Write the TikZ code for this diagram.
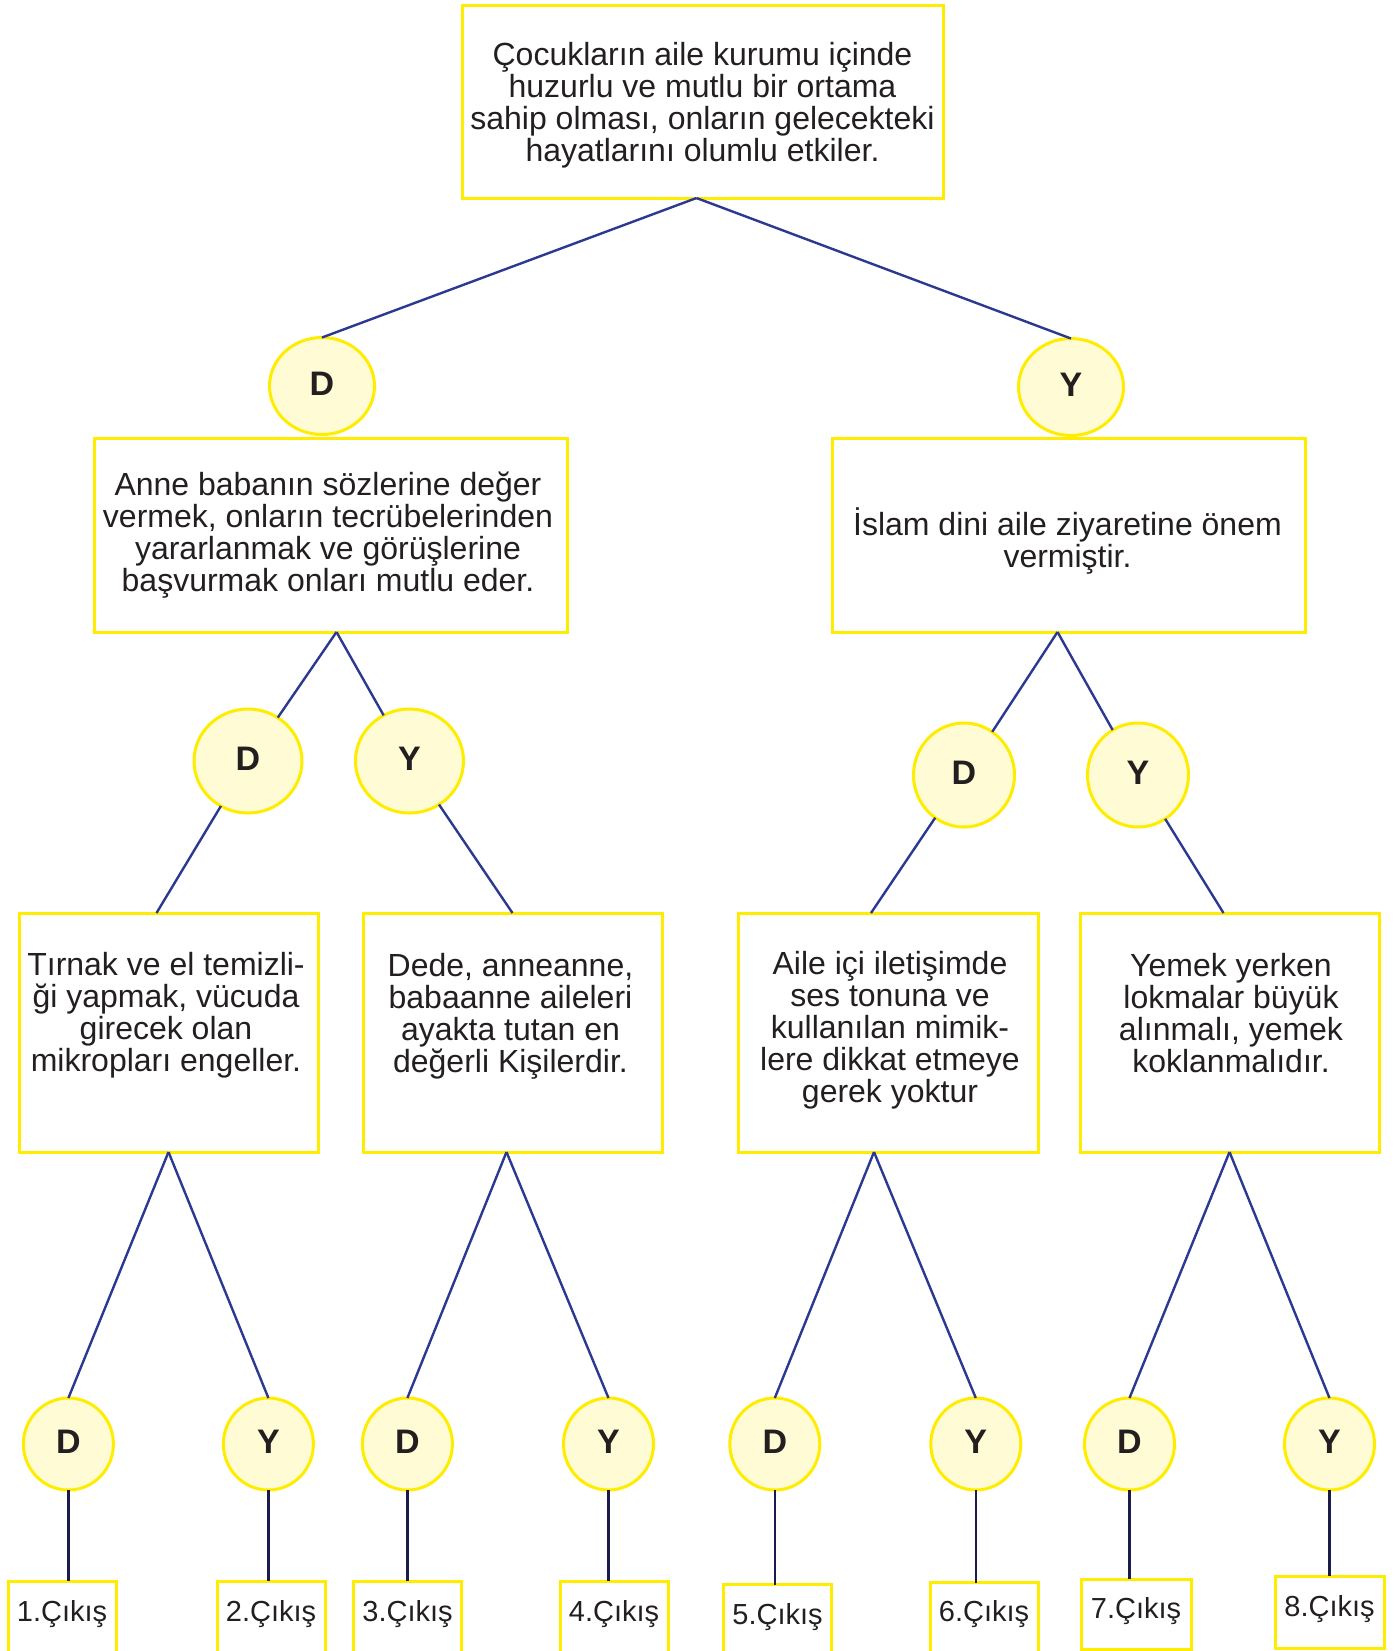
\documentclass[tikz,border=0pt]{standalone}
\usepackage{fontspec}
\setmainfont{Liberation Sans}
\usetikzlibrary{shapes.geometric}
\definecolor{byel}{HTML}{FFED00}
\definecolor{cfill}{HTML}{FFFBD5}
\definecolor{lblue}{HTML}{2B3990}
\definecolor{lnavy}{HTML}{1C1C4A}
\definecolor{txt}{HTML}{231F20}
\begin{document}
\begin{tikzpicture}[x=0.5pt,y=-0.5pt,
 box/.style={draw=byel, line width=1.5pt, rectangle, inner sep=0pt, outer sep=0pt},
 txtnode/.style={align=center, text=txt, inner sep=0pt, font=\fontsize{16}{16}\selectfont},
 yn/.style={ellipse, draw=byel, line width=1.5pt, fill=cfill, inner sep=0pt, outer sep=0pt, text=txt, text height=12.2pt, text depth=3pt, font=\fontsize{17}{17}\selectfont\bfseries},
 yn1/.style={yn, minimum width=52.5pt, minimum height=48.5pt},
 yn2/.style={yn, minimum width=52pt, minimum height=52pt},
 yn4/.style={yn, minimum width=45pt, minimum height=46pt},
 conn/.style={draw=lblue, line width=1.2pt},
 vconn/.style={draw=lnavy, line width=1.2pt},
 exitt/.style={text=txt, inner sep=0pt, font=\fontsize{14.5}{14.5}\selectfont},
 bigbox/.style={box, minimum width=236.5pt, minimum height=97pt},
 midbox/.style={box, minimum width=149.5pt, minimum height=119.5pt},
 exbox/.style={box, minimum width=54pt}
]
\useasboundingbox (0,0) rectangle (1399,1651);
\clip (0,0) rectangle (1399,1651);
\fill[white] (0,0) rectangle (1399,1651);

% top box
\node[box, minimum width=240.5pt, minimum height=96.5pt] (top) at (702.5,101.5) {};
\node[txtnode] (toptxt) at (702.5,105.2) {Çocukların aile kurumu içinde\\huzurlu ve mutlu bir ortama\\sahip olması, onların gelecekteki\\hayatlarını olumlu etkiler.};

% level 1
\node[yn1] (c1L) at (322,386) {D};
\node[yn1] (c1R) at (1071,387) {Y};
\node[bigbox] (b1L) at (330.5,535) {};
\node[txtnode] (b1Ltxt) at (328,535.2) {Anne babanın sözlerine değer\\vermek, onların tecrübelerinden\\yararlanmak ve görüşlerine\\başvurmak onları mutlu eder.};
\node[bigbox] (b1R) at (1068.5,535) {};
\node[txtnode] (b1Rtxt) at (1067.5,541) {İslam dini aile ziyaretine önem\\vermiştir.};

% level 2
\node[yn2, minimum width=54pt] (c2a) at (248,761) {D};
\node[yn2, minimum width=54pt] (c2b) at (409.5,761) {Y};
\node[yn2, minimum width=50.5pt] (c2c) at (964,775) {D};
\node[yn2, minimum width=50.5pt] (c2d) at (1138,775) {Y};

% level 3
\node[midbox] (b3a) at (168.5,1032.5) {};
\node[txtnode] (b3atxt) at (166,1015.2) {Tırnak ve el temizli-\\ği yapmak, vücuda\\girecek olan\\mikropları engeller.};
\node[midbox] (b3b) at (512.5,1032.5) {};
\node[txtnode] (b3btxt) at (510.5,1016.7) {Dede, anneanne,\\babaanne aileleri\\ayakta tutan en\\değerli Kişilerdir.};
\node[midbox, minimum width=150pt] (b3c) at (888,1032.5) {};
\node[txtnode] (b3ctxt) at (890,1030.7) {Aile içi iletişimde\\ses tonuna ve\\kullanılan mimik-\\lere dikkat etmeye\\gerek yoktur};
\node[midbox] (b3d) at (1229.5,1032.5) {};
\node[txtnode] (b3dtxt) at (1231,1013.5) {Yemek yerken\\lokmalar büyük\\alınmalı, yemek\\koklanmalıdır.};

% level 4
\node[yn4] (c41) at (68.4,1444) {D};
\node[yn4] (c42) at (268.4,1444) {Y};
\node[yn4] (c43) at (407.4,1444) {D};
\node[yn4] (c44) at (608.5,1444) {Y};
\node[yn4] (c45) at (774.8,1444) {D};
\node[yn4] (c46) at (975.8,1444) {Y};
\node[yn4] (c47) at (1129.5,1444) {D};
\node[yn4] (c48) at (1329.5,1444) {Y};

% exit boxes
\node[exbox, minimum height=42pt] (e1) at (62,1623) {};
\node[exbox, minimum height=42pt] (e2) at (271,1623) {};
\node[exbox, minimum height=42pt] (e3) at (407.5,1623) {};
\node[exbox, minimum height=42pt] (e4) at (614,1623) {};
\node[exbox, minimum height=40.5pt] (e5) at (777.5,1625) {};
\node[exbox, minimum height=41.5pt] (e6) at (984,1624) {};
\node[exbox, minimum height=35pt, minimum width=55pt] (e7) at (1136,1614) {};
\node[exbox, minimum height=36pt, minimum width=54.5pt] (e8) at (1329.5,1612) {};
\node[exitt] (t1) at (62,1614) {1.Çıkış};
\node[exitt] (t2) at (271,1614) {2.Çıkış};
\node[exitt] (t3) at (407.5,1614) {3.Çıkış};
\node[exitt] (t4) at (614,1614) {4.Çıkış};
\node[exitt] (t5) at (777.5,1617) {5.Çıkış};
\node[exitt] (t6) at (984,1614) {6.Çıkış};
\node[exitt] (t7) at (1136,1611.5) {7.Çıkış};
\node[exitt] (t8) at (1329.5,1609.5) {8.Çıkış};

% connectors
\draw[conn] ([xshift=-3pt]top.south) -- (c1L.north);
\draw[conn] ([xshift=-3pt]top.south) -- (c1R.north);
\draw[conn] ([xshift=3pt]b1L.south) -- (c2a);
\draw[conn] (c2a) -- ([xshift=-6pt]b3a.north);
\draw[conn] ([xshift=3pt]b1L.south) -- (c2b);
\draw[conn] (c2b) -- (b3b.north);
\draw[conn] ([xshift=-5.5pt]b1R.south) -- (c2c);
\draw[conn] (c2c) -- ([xshift=-8.5pt]b3c.north);
\draw[conn] ([xshift=-5.5pt]b1R.south) -- (c2d);
\draw[conn] (c2d) -- ([xshift=-3pt]b3d.north);
\draw[conn] (b3a.south) -- (c41.north);
\draw[conn] (b3a.south) -- (c42.north);
\draw[conn] ([xshift=-3pt]b3b.south) -- (c43.north);
\draw[conn] ([xshift=-3pt]b3b.south) -- (c44.north);
\draw[conn] ([xshift=-7pt]b3c.south) -- (c45.north);
\draw[conn] ([xshift=-7pt]b3c.south) -- (c46.north);
\draw[conn] (b3d.south) -- (c47.north);
\draw[conn] (b3d.south) -- (c48.north);
\foreach \i in {1,...,8}{
  \draw[vconn] (c4\i.south) -- (c4\i.south |- e\i.north);
}
\end{tikzpicture}
\end{document}
